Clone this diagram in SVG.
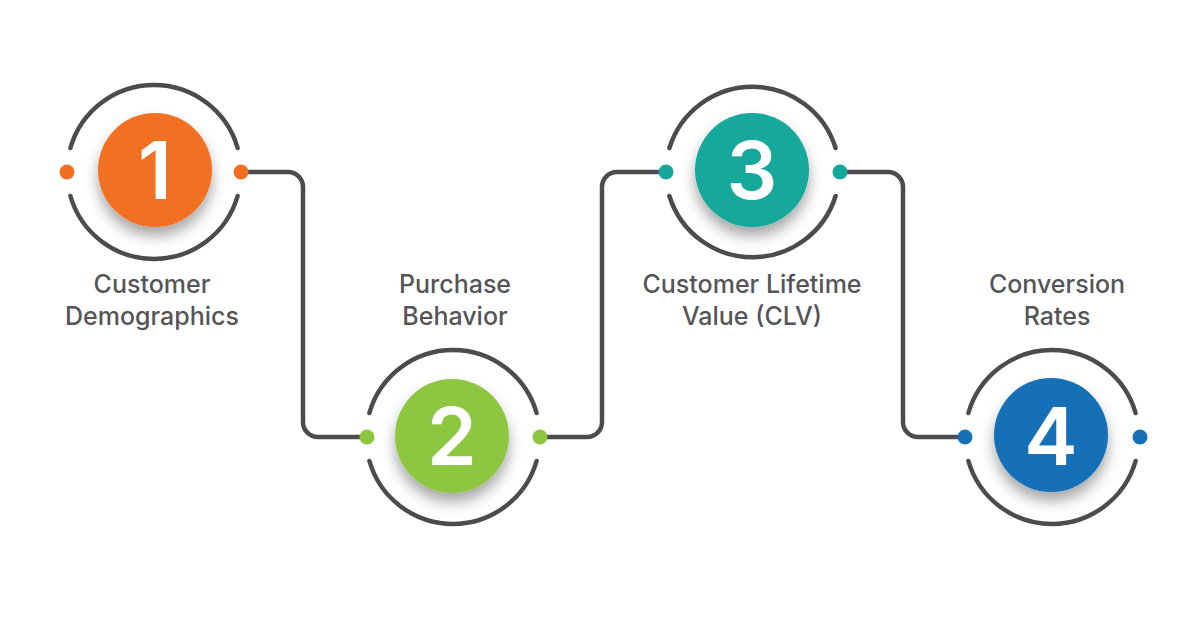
<svg xmlns="http://www.w3.org/2000/svg" width="1200" height="628" viewBox="0 0 1200 628">
<defs>
<filter id="sh" x="-50%" y="-50%" width="200%" height="200%">
<feDropShadow dx="0" dy="9" stdDeviation="7" flood-color="#000" flood-opacity="0.35"/>
</filter>
<style>
.ring{fill:none;stroke:#4b4b50;stroke-width:4.5;stroke-linecap:round}
.conn{fill:none;stroke:#4b4b50;stroke-width:4.5;stroke-linejoin:round}
.num{font-family:Inter,"Liberation Sans",sans-serif;font-weight:600;font-size:80px;fill:#fff;text-anchor:middle}
.lbl{font-family:Inter,"Liberation Sans",sans-serif;font-weight:500;font-size:25px;fill:#555558;text-anchor:middle}
</style>
</defs>
<rect width="1200" height="628" fill="#fff"/>
<g id="connectors">
<path class="conn" d="M241,172 H288 A15,15 0 0 1 303,187 V422 A15,15 0 0 0 318,437 H367"/>
<path class="conn" d="M540,437 H587 A15,15 0 0 0 602,422 V187 A15,15 0 0 1 617,172 H666"/>
<path class="conn" d="M840,172 H888 A15,15 0 0 1 903,187 V422 A15,15 0 0 0 918,437 H965"/>
</g>
<g id="node1">
<path class="ring" d="M70.4,148 A87,87 0 0 1 237.6,148 M237.6,196 A87,87 0 0 1 70.4,196"/>
<circle cx="67" cy="172" r="7.5" fill="#f26f21"/>
<circle cx="241" cy="172" r="7.5" fill="#f26f21"/>
<circle cx="155" cy="170" r="57" fill="#f26f21" filter="url(#sh)"/>
<text class="num" x="155" y="199">1</text>
<text class="lbl" x="152" y="293">Customer</text>
<text class="lbl" x="152" y="325">Demographics</text>
</g>
<g id="node2">
<path class="ring" d="M369.4,413 A87,87 0 0 1 536.6,413 M536.6,461 A87,87 0 0 1 369.4,461"/>
<circle cx="367" cy="437" r="7.5" fill="#8dc63f"/>
<circle cx="540" cy="437" r="7.5" fill="#8dc63f"/>
<circle cx="452" cy="436" r="57" fill="#8dc63f" filter="url(#sh)"/>
<text class="num" x="452" y="465">2</text>
<text class="lbl" x="455" y="293">Purchase</text>
<text class="lbl" x="455" y="325">Behavior</text>
</g>
<g id="node3">
<path class="ring" d="M669.4,148 A87,87 0 0 1 835.6,148 M835.6,196 A87,87 0 0 1 669.4,196"/>
<circle cx="666" cy="172" r="7.5" fill="#13a89b"/>
<circle cx="840" cy="172" r="7.5" fill="#13a89b"/>
<circle cx="752" cy="170" r="57" fill="#13a89b" filter="url(#sh)"/>
<text class="num" x="752" y="199">3</text>
<text class="lbl" x="752" y="293">Customer Lifetime</text>
<text class="lbl" x="752" y="325">Value (CLV)</text>
</g>
<g id="node4">
<path class="ring" d="M968.4,413 A87,87 0 0 1 1135.6,413 M1135.6,461 A87,87 0 0 1 968.4,461"/>
<circle cx="965" cy="437" r="7.5" fill="#1670b8"/>
<circle cx="1140" cy="437" r="7.5" fill="#1670b8"/>
<circle cx="1051" cy="435" r="57" fill="#1670b8" filter="url(#sh)"/>
<text class="num" x="1051" y="465">4</text>
<text class="lbl" x="1057" y="293">Conversion</text>
<text class="lbl" x="1057" y="325">Rates</text>
</g>
</svg>
